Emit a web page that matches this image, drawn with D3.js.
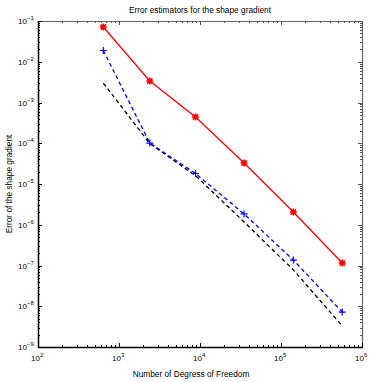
<!DOCTYPE html>
<html>
<head>
<meta charset="utf-8">
<script src="https://cdn.jsdelivr.net/npm/d3@7"></script>
<style>
  body { margin: 0; background: #fff; }
  text { font-family: "Liberation Sans", Arial, sans-serif; fill: #000; }
</style>
</head>
<body>
<div id="chart"></div>
<script>
// chart data
const dof = [640, 2400, 8800, 35000, 142000, 570000]
const estimatorRed = [0.0713, 3.37e-3, 4.41e-4, 3.27e-5, 2.06e-6, 1.15e-7]
const estimatorBlue = [0.0189, 1.01e-4, 1.81e-5, 1.84e-6, 1.36e-7, 7.2e-9]
const referenceBlack = [3.0e-3, 9.8e-5, 1.6e-5, 1.17e-6, 7.8e-8, 3.3e-9]
const xDecades = [2, 3, 4, 5, 6]
const yDecades = [-1, -2, -3, -4, -5, -6, -7, -8, -9]

const width = 374
const height = 382
const margin = { top: 21, right: 12, bottom: 35, left: 38 }

const svg = d3.select('#chart').append('svg')
  .attr('width', width)
  .attr('height', height)

const x = d3.scaleLog().domain([1e2, 1e6]).range([margin.left, width - margin.right])
const y = d3.scaleLog().domain([1e-9, 1e-1]).range([height - margin.bottom, margin.top])

const x0 = margin.left
const x1 = width - margin.right
const y0 = height - margin.bottom
const y1 = margin.top

// box
svg.append('line').attr('x1', x0).attr('x2', x1).attr('y1', y1 + 0.5).attr('y2', y1 + 0.5)
  .attr('stroke', '#666').attr('stroke-width', 1.2)
svg.append('line').attr('x1', x1 + 0.5).attr('x2', x1 + 0.5).attr('y1', y1).attr('y2', y0)
  .attr('stroke', '#666').attr('stroke-width', 1.2)

// ticks (inward, all four sides)
const xTicks = []
const yTicks = []
for (let e = 2; e < 6; e++) for (let m = 1; m < 10; m++) xTicks.push({ v: m * Math.pow(10, e), major: m === 1 })
xTicks.push({ v: 1e6, major: true })
for (let e = -9; e < -1; e++) for (let m = 1; m < 10; m++) yTicks.push({ v: m * Math.pow(10, e), major: m === 1 })
yTicks.push({ v: 1e-1, major: true })

const tickG = svg.append('g').attr('stroke', '#000').attr('stroke-width', 1)
xTicks.forEach(t => {
  const px = Math.round(x(t.v)) + 0.5
  const len = t.major ? 4 : 2
  tickG.append('line').attr('x1', px).attr('x2', px).attr('y1', y0).attr('y2', y0 - len)
  tickG.append('line').attr('x1', px).attr('x2', px).attr('y1', y1).attr('y2', y1 + len).attr('stroke', '#555')
})
yTicks.forEach(t => {
  const py = Math.round(y(t.v)) + 0.5
  const len = t.major ? 4 : 2
  tickG.append('line').attr('x1', x0).attr('x2', x0 + len).attr('y1', py).attr('y2', py)
  tickG.append('line').attr('x1', x1).attr('x2', x1 - len).attr('y1', py).attr('y2', py).attr('stroke', '#555')
})

svg.append('line').attr('x1', x0).attr('x2', x1 + 1).attr('y1', y0 + 0.5).attr('y2', y0 + 0.5)
  .attr('stroke', '#000').attr('stroke-width', 1.5)
svg.append('line').attr('x1', x0 + 0.5).attr('x2', x0 + 0.5).attr('y1', y1).attr('y2', y0 + 1)
  .attr('stroke', '#000').attr('stroke-width', 1.5)

// tick labels
function powerLabel (g, px, py, exp, anchor) {
  const t = g.append('text').attr('x', px).attr('y', py)
    .attr('font-size', 8).attr('text-anchor', anchor)
  t.append('tspan').text('10')
  t.append('tspan').attr('dy', -4).attr('font-size', 6).text(exp < 0 ? '\u2212' + (-exp) : exp)
}
const labelG = svg.append('g')
xDecades.forEach(e => powerLabel(labelG, x(Math.pow(10, e)) - 7, y0 + 14, e, 'start'))
yDecades.forEach(e => powerLabel(labelG, x0 - 20, y(Math.pow(10, e)) + 3, e, 'start'))

// titles
svg.append('text').attr('x', 200).attr('y', 13).attr('text-anchor', 'middle')
  .attr('font-size', 8.3).text('Error estimators for the shape gradient')
svg.append('text').attr('x', 191).attr('y', 377).attr('text-anchor', 'middle')
  .attr('font-size', 8.3).text('Number of Degress of Freedom')
svg.append('text').attr('transform', 'translate(12,' + 184 + ') rotate(-90)')
  .attr('text-anchor', 'middle').attr('font-size', 8.3).text('Error of the shape gradient')

// series
const line = d3.line().x(d => x(d[0])).y(d => y(d[1]))
const series = [
  { values: referenceBlack, color: '#000', dash: '4,3', marker: null },
  { values: estimatorBlue, color: '#0000ff', dash: '4,3', marker: 'plus' },
  { values: estimatorRed, color: '#ff0000', dash: null, marker: 'star' }
]

series.forEach(s => {
  const pts = dof.map((d, i) => [d, s.values[i]])
  svg.append('path')
    .datum(pts)
    .attr('d', line)
    .attr('fill', 'none')
    .attr('stroke', s.color)
    .attr('stroke-width', 1.3)
    .attr('stroke-dasharray', s.dash)
  if (s.marker) {
    const r = 3.5
    svg.append('g').selectAll('path')
      .data(pts)
      .enter()
      .append('path')
      .attr('transform', d => 'translate(' + x(d[0]) + ',' + y(d[1]) + ')')
      .attr('d', s.marker === 'plus'
        ? `M${-r},0H${r}M0,${-r}V${r}`
        : `M${-r},0H${r}M0,${-r}V${r}M${-r * 0.75},${-r * 0.75}L${r * 0.75},${r * 0.75}M${-r * 0.75},${r * 0.75}L${r * 0.75},${-r * 0.75}`)
      .attr('fill', 'none')
      .attr('stroke', s.color)
      .attr('stroke-width', s.marker === 'star' ? 1.6 : 1.2)
  }
})
</script>
</body>
</html>
